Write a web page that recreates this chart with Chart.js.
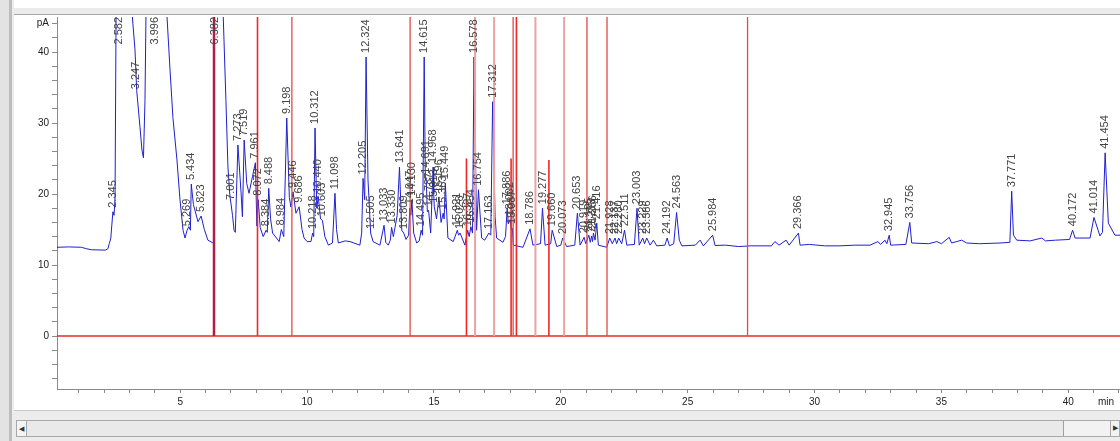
<!DOCTYPE html>
<html>
<head>
<meta charset="utf-8">
<script src="https://cdn.jsdelivr.net/npm/chart.js@4.4.1/dist/chart.umd.min.js"></script>
<style>
  html, body { margin: 0; padding: 0; width: 1120px; height: 441px; overflow: hidden; background: #fff; position: relative; }
  .f { position: absolute; box-sizing: border-box; }
  #chrom { position: absolute; left: 14px; top: 15px; }
</style>
</head>
<body>
<div class="f" style="left:0;top:0;width:9px;height:441px;background:#e3e3e3"></div>
<div class="f" style="left:9px;top:0;width:3px;height:441px;background:#bdbdbd"></div>
<div class="f" style="left:12px;top:0;width:2px;height:441px;background:#ececec"></div>
<div class="f" style="left:14px;top:8px;width:1106px;height:6px;background:#ebebeb"></div>
<div class="f" style="left:14px;top:14px;width:1106px;height:1px;background:#a8a8a8"></div>
<div class="f" style="left:14px;top:410px;width:1106px;height:31px;background:#ececec;border-top:1px solid #c8c8c8"></div>
<div class="f" style="left:16px;top:420px;width:1104px;height:17px;background:#f2f2f2;border:1px solid #a9a9a9"></div>
<div class="f" style="left:16px;top:420px;width:11px;height:17px;border:1px solid #a9a9a9;background:#f4f4f4;font:7px Arial;line-height:15px;text-align:center;color:#333">&#9664;</div>
<div class="f" style="left:27px;top:421px;width:1037px;height:15px;background:#e9e9e9;border-right:1px solid #a0a0a0"></div>
<div class="f" style="left:1110px;top:420px;width:10px;height:17px;border-left:1px solid #a9a9a9;font:7px Arial;line-height:15px;text-align:center;color:#333">&#9654;</div>
<canvas id="chrom" width="1106" height="395"></canvas>
<script>
// axis ranges (min, pA)
const xMin = 0.142, xMax = 42.04;
const yMin = -7.46, yMax = 44.93;

// x ticks every minute, labels every 5
const xTickLabelValues = [5, 10, 15, 20, 25, 30, 35, 40];
const xUnit = 'min';
// y ticks every 2 pA, labels every 10, unit at top tick
const yTickLabelValues = [0, 10, 20, 30, 40];
const yUnitTick = 44;
const yUnit = 'pA';

// FID signal: [retention time, pA]
const tracePoints = [
  [0.142, 12.5], [0.6, 12.55], [1.1, 12.5], [1.3, 12.3], [1.5, 12.15], [2.05, 12.1], [2.15, 12.3],
  [2.2, 13.0], [2.26, 13.7], [2.3, 15.5], [2.345, 17.5], [2.39, 17.0], [2.43, 19.5], [2.47, 45.5],
  [2.582, 110], [3.1, 45.5], [3.216, 40.3], [3.283, 34.6], [3.413, 29.4], [3.49, 26.2], [3.55, 25.1],
  [3.61, 33.2], [3.65, 45.5], [3.996, 115], [4.47, 45.5], [4.59, 37.9], [4.71, 30.8], [4.87, 24.8],
  [4.99, 19.2], [5.11, 14.9], [5.19, 13.8], [5.269, 14.9], [5.34, 15.4], [5.40, 14.9], [5.434, 21.4],
  [5.52, 18.5], [5.70, 16.1], [5.823, 16.9], [5.95, 15.0], [6.09, 13.5], [6.29, 13.1], [6.34, 13.3],
  [6.382, 140], [6.69, 45.5], [6.80, 33.2], [6.88, 23.8], [6.96, 19.6], [7.001, 18.6], [7.06, 17.0],
  [7.12, 14.9], [7.17, 14.6], [7.273, 26.9], [7.40, 20.0], [7.45, 16.8], [7.519, 27.6], [7.62, 21.5],
  [7.71, 20.1], [7.85, 22.5], [7.961, 24.4], [8.02, 15.5], [8.072, 19.2], [8.15, 15.3], [8.27, 14.0],
  [8.384, 14.9], [8.43, 14.6], [8.488, 20.8], [8.56, 16.5], [8.64, 14.5], [8.9, 13.3], [8.984, 15.0],
  [9.08, 14.0], [9.198, 30.7], [9.30, 19.5], [9.36, 18.2], [9.446, 20.3], [9.56, 17.3], [9.686, 18.2],
  [9.80, 15.0], [9.88, 13.8], [10.0, 13.3], [10.15, 13.3], [10.218, 14.5], [10.26, 14.0], [10.312, 29.3],
  [10.38, 18.0], [10.44, 19.6], [10.53, 16.5], [10.603, 16.3], [10.7, 14.0], [10.84, 12.8], [11.0, 13.1],
  [11.098, 20.1], [11.16, 15.0], [11.23, 13.1], [11.5, 13.4], [11.69, 13.3], [12.08, 12.8], [12.15, 14.5],
  [12.205, 22.2], [12.27, 19.2], [12.324, 39.3], [12.40, 22.0], [12.44, 19.2], [12.505, 14.5], [12.6, 13.3],
  [12.87, 12.8], [13.033, 15.6], [13.1, 13.2], [13.2, 12.8], [13.28, 13.5], [13.330, 15.3], [13.4, 14.0],
  [13.55, 17.0], [13.641, 23.8], [13.73, 14.9], [13.809, 14.5], [13.9, 13.6], [14.0, 14.2], [14.047, 18.0],
  [14.09, 17.0], [14.13, 19.2], [14.2, 14.5], [14.32, 13.1], [14.42, 13.4], [14.495, 14.9], [14.55, 14.2],
  [14.615, 39.3], [14.66, 22.0], [14.691, 22.3], [14.74, 17.5], [14.787, 17.7], [14.87, 14.5],
  [14.968, 23.8], [14.99, 20.0], [15.013, 18.2], [15.1, 16.5], [15.196, 19.6], [15.28, 16.0],
  [15.363, 17.3], [15.40, 16.5], [15.449, 21.5], [15.55, 13.8], [15.76, 13.3], [15.921, 14.9],
  [15.97, 14.2], [16.028, 14.5], [16.22, 12.8], [16.327, 14.9], [16.39, 14.0], [16.454, 15.4],
  [16.52, 14.5], [16.578, 39.3], [16.68, 14.9], [16.754, 20.6], [16.88, 13.8], [17.0, 13.5],
  [17.163, 14.5], [17.24, 14.2], [17.312, 33.0], [17.41, 16.8], [17.47, 13.8], [17.72, 13.2],
  [17.82, 14.0], [17.886, 18.0], [17.93, 15.8], [18.002, 16.4], [18.05, 15.0], [18.087, 15.2],
  [18.13, 12.8], [18.51, 12.5], [18.786, 15.1], [18.9, 12.8], [19.2, 13.0], [19.277, 18.0], [19.38, 12.8],
  [19.6, 13.0], [19.66, 14.9], [19.84, 12.6], [20.0, 12.8], [20.073, 13.8], [20.23, 12.6], [20.55, 12.8],
  [20.653, 17.3], [20.76, 12.8], [20.919, 13.9], [20.98, 13.0], [21.105, 14.2], [21.16, 13.2],
  [21.213, 14.1], [21.25, 13.3], [21.286, 14.5], [21.35, 13.5], [21.416, 15.9], [21.48, 12.8],
  [21.81, 12.5], [21.928, 13.8], [22.03, 13.0], [22.137, 13.8], [22.2, 13.0], [22.28, 13.8], [22.4, 13.0],
  [22.511, 14.9], [22.6, 12.8], [22.9, 12.9], [23.003, 18.0], [23.09, 12.8], [23.229, 13.8], [23.3, 13.0],
  [23.386, 13.8], [23.52, 12.8], [23.65, 13.5], [23.78, 12.7], [24.1, 12.8], [24.192, 13.8], [24.28, 12.7],
  [24.45, 13.0], [24.563, 17.4], [24.67, 13.5], [24.77, 12.7], [25.3, 12.8], [25.49, 13.5], [25.62, 12.7],
  [25.984, 14.2], [26.08, 12.75], [26.5, 12.8], [27.0, 12.6], [27.5, 12.7], [28.3, 12.7], [28.44, 13.3],
  [28.6, 12.8], [28.88, 13.5], [29.0, 12.8], [29.366, 14.5], [29.43, 12.8], [29.8, 12.9], [30.4, 12.7],
  [31.0, 12.7], [31.6, 12.8], [32.19, 12.8], [32.5, 13.3], [32.6, 12.9], [32.78, 13.5], [32.85, 13.0],
  [32.945, 14.2], [33.0, 12.8], [33.6, 12.9], [33.756, 16.0], [33.83, 13.1], [34.5, 13.0], [34.82, 13.3],
  [35.0, 13.0], [35.31, 13.9], [35.4, 13.1], [35.8, 13.5], [36.0, 13.1], [36.5, 13.0], [37.31, 13.1],
  [37.7, 13.2], [37.771, 20.4], [37.84, 14.2], [37.97, 13.5], [38.5, 13.4], [38.96, 13.8], [39.1, 13.4],
  [39.5, 13.5], [40.05, 13.6], [40.172, 14.9], [40.27, 13.8], [40.86, 13.8], [41.014, 16.7], [41.25, 14.1],
  [41.35, 14.6], [41.454, 25.8], [41.58, 15.9], [41.84, 14.2], [42.1, 14.2]
];

// labelled peaks: retention time and apex height (pA)
const peakTimes = [
  2.345, 2.582, 3.247, 3.996, 5.269, 5.434, 5.823, 6.382, 7.001, 7.273, 7.519, 7.961, 8.072, 8.384,
  8.488, 8.984, 9.198, 9.446, 9.686, 10.218, 10.312, 10.440, 10.603, 11.098, 12.205, 12.324, 12.505,
  13.033, 13.330, 13.641, 13.809, 14.047, 14.130, 14.495, 14.615, 14.691, 14.787, 14.968, 15.013,
  15.196, 15.363, 15.449, 15.921, 16.028, 16.327, 16.454, 16.578, 16.754, 17.163, 17.312, 17.886,
  18.002, 18.087, 18.786, 19.277, 19.660, 20.073, 20.653, 20.919, 21.105, 21.213, 21.286, 21.416,
  21.928, 22.137, 22.280, 22.511, 23.003, 23.229, 23.386, 24.192, 24.563, 25.984, 29.366, 32.945,
  33.756, 37.771, 40.172, 41.014, 41.454
];
const peakHeights = [
  17.5, 110, 34.2, 115, 14.9, 21.4, 16.9, 140, 18.6, 26.9, 27.6, 24.4, 19.2, 14.9,
  20.8, 15.0, 30.7, 20.3, 18.2, 14.5, 29.3, 19.6, 16.3, 20.1, 22.2, 39.3, 14.5,
  15.6, 15.3, 23.8, 14.5, 18.0, 19.2, 14.9, 39.3, 22.3, 17.7, 23.8, 18.2,
  19.6, 17.3, 21.5, 14.9, 14.5, 14.9, 15.4, 39.3, 20.6, 14.5, 33.0, 18.0,
  16.4, 15.2, 15.1, 18.0, 14.9, 13.8, 17.3, 13.9, 14.2, 14.1, 14.5, 15.9,
  13.8, 13.8, 13.8, 14.9, 18.0, 13.8, 13.8, 13.8, 17.4, 14.2, 14.5, 14.2,
  16.0, 20.4, 14.9, 16.7, 25.8
];

// integration event markers: time, top of marker (pA), kind
const markerTimes = [6.33, 8.045, 9.40, 14.06, 16.28, 16.62, 17.37, 18.04, 18.12, 18.25, 19.0, 19.53, 20.13, 21.03, 21.82, 27.36];
const markerTops = [50, 50, 50, 50, 25, 50, 50, 25, 50, 50, 50, 24.8, 50, 50, 50, 50];
const markerKinds = ['heavy', 'bright', 'thin', 'thin', 'bright', 'pale', 'pale', 'bright', 'thin', 'bright', 'pale', 'bright', 'pale', 'thin', 'thin', 'thin'];

const markerStyle = {
  heavy: ['#b41d4a', 2.5],
  bright: ['#f02828', 1.6],
  thin: ['#e04a4a', 1.3],
  pale: ['#eaa4a4', 2]
};

const FONT = '"Liberation Sans", Arial, sans-serif';
Chart.defaults.font.family = FONT;

const xTicks = [];
for (let v = 1; v <= Math.floor(xMax); v++) xTicks.push(v);
const yTicks = [];
for (let v = -6; v <= 44; v += 2) yTicks.push(v);

const markerSets = markerTimes.map((t, i) => ({
  data: [{ x: t, y: 0 }, { x: t, y: markerTops[i] }],
  borderColor: markerStyle[markerKinds[i]][0],
  borderWidth: markerStyle[markerKinds[i]][1]
}));

const peakLabels = {
  id: 'peakLabels',
  afterDatasetsDraw(chart) {
    const { ctx, chartArea: a, scales: { x, y } } = chart;
    ctx.save();
    ctx.beginPath();
    ctx.rect(a.left, a.top, a.right - a.left, a.bottom - a.top);
    ctx.clip();
    ctx.font = '11px ' + FONT;
    ctx.fillStyle = '#444';
    ctx.textAlign = 'left';
    ctx.textBaseline = 'middle';
    peakTimes.forEach((t, i) => {
      const text = t.toFixed(3);
      const w = ctx.measureText(text).width;
      let py = y.getPixelForValue(peakHeights[i]) - 4;
      if (py - w < a.top) py = a.top + w;
      ctx.save();
      ctx.translate(x.getPixelForValue(t), py);
      ctx.rotate(-Math.PI / 2);
      ctx.fillText(text, 0, 0);
      ctx.restore();
    });
    ctx.restore();
  },
  afterDraw(chart) {
    const { ctx, chartArea: a } = chart;
    ctx.save();
    ctx.font = '10px ' + FONT;
    ctx.fillStyle = '#222';
    ctx.textAlign = 'center';
    ctx.textBaseline = 'middle';
    ctx.fillText(xUnit, a.right - 14, a.bottom + 13);
    ctx.restore();
  }
};

new Chart(document.getElementById('chrom'), {
  type: 'line',
  data: {
    datasets: [
      ...markerSets,
      { data: [{ x: xMin, y: 0 }, { x: xMax, y: 0 }], borderColor: '#e02a2a', borderWidth: 1.5 },
      { data: tracePoints.map(([x, y]) => ({ x, y })), borderColor: '#1f1fd0', borderWidth: 1 }
    ]
  },
  options: {
    responsive: false,
    animation: false,
    devicePixelRatio: 1,
    layout: { padding: { top: 2, left: 0, right: 0, bottom: 0 } },
    elements: { point: { radius: 0 }, line: { tension: 0 } },
    plugins: { legend: { display: false }, tooltip: { enabled: false } },
    scales: {
      x: {
        type: 'linear',
        min: xMin,
        max: xMax,
        afterBuildTicks: (s) => { s.ticks = xTicks.map(v => ({ value: v })); },
        afterFit: (s) => { s.height = 21; s.paddingLeft = 0; s.paddingRight = 0; },
        grid: { drawOnChartArea: false, drawTicks: true, tickLength: 4, color: '#8a8a8a' },
        border: { color: '#8a8a8a' },
        ticks: {
          autoSkip: false, maxRotation: 0, padding: 3, color: '#222', font: { size: 10 },
          callback: (v) => xTickLabelValues.includes(v) ? String(v) : ''
        }
      },
      y: {
        type: 'linear',
        min: yMin,
        max: yMax,
        afterBuildTicks: (s) => { s.ticks = yTicks.map(v => ({ value: v })); },
        afterFit: (s) => { s.width = 43; s.paddingTop = 0; s.paddingBottom = 0; },
        grid: { drawOnChartArea: false, drawTicks: true, tickLength: 5, color: '#8a8a8a' },
        border: { color: '#8a8a8a' },
        ticks: {
          autoSkip: false, padding: 3, color: '#222', font: { size: 10 },
          callback: (v) => v === yUnitTick ? yUnit : (yTickLabelValues.includes(v) ? String(v) : '')
        }
      }
    }
  },
  plugins: [peakLabels]
});
</script>
</body>
</html>
